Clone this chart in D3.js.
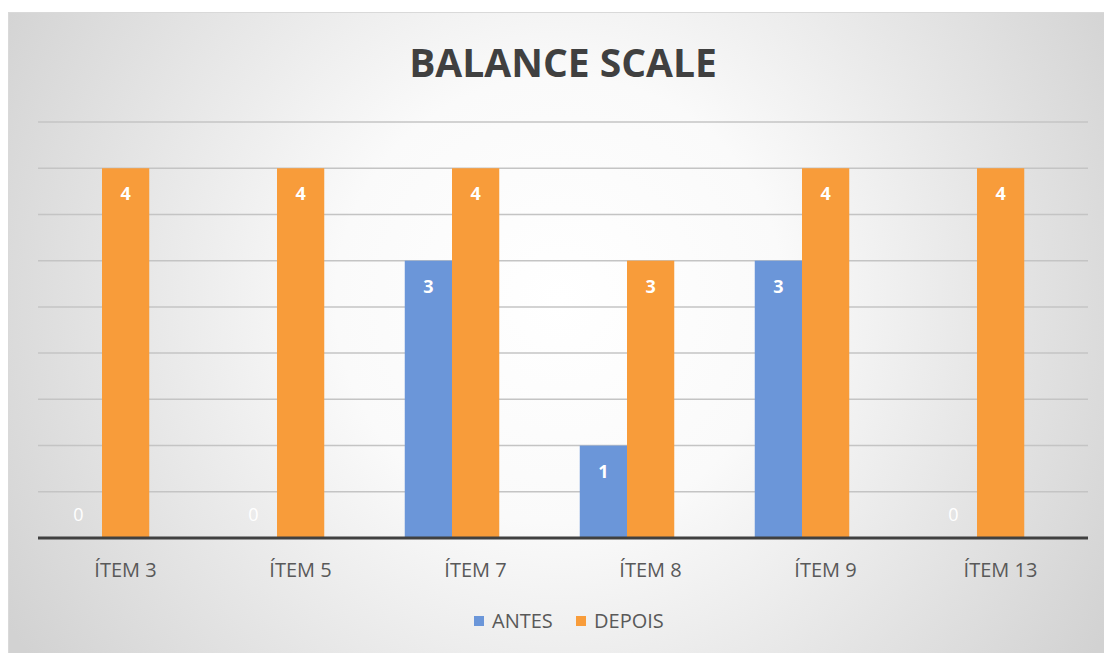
<!DOCTYPE html>
<html>
<head>
<meta charset="utf-8">
<script src="https://cdn.jsdelivr.net/npm/d3@7"></script>
<style>
  body { margin: 0; background: #fff; }
  svg { display: block; font-family: "Open Sans", "Noto Sans", sans-serif; }
</style>
</head>
<body>
<svg id="chart" width="1104" height="653"></svg>
<script>
// chart data
const categories = ["ÍTEM 3", "ÍTEM 5", "ÍTEM 7", "ÍTEM 8", "ÍTEM 9", "ÍTEM 13"];
const antes = [0, 0, 3, 1, 3, 0];
const depois = [4, 4, 4, 3, 4, 4];
const seriesNames = ["ANTES", "DEPOIS"];
const yTicks = [0, 0.5, 1, 1.5, 2, 2.5, 3, 3.5, 4, 4.5];

const colors = { ANTES: "#6b96d9", DEPOIS: "#f89c3a" };

let svg = d3.select("#chart");
let width = +svg.attr("width");
let height = +svg.attr("height");

// background with soft radial shading
let defs = svg.append("defs");
let grad = defs.append("radialGradient")
    .attr("id", "bg")
    .attr("gradientUnits", "userSpaceOnUse")
    .attr("cx", 560).attr("cy", 300).attr("r", 640);
grad.append("stop").attr("offset", "0%").attr("stop-color", "#ffffff");
grad.append("stop").attr("offset", "35%").attr("stop-color", "#fafafa");
grad.append("stop").attr("offset", "100%").attr("stop-color", "#d2d2d2");

svg.append("rect")
    .attr("x", 8.5).attr("y", 12.5)
    .attr("width", width).attr("height", height)
    .attr("fill", "url(#bg)")
    .attr("stroke", "#d9d9d9");

let plotLeft = 38, plotRight = 1088, plotTop = 122, plotBottom = 538;

let y = d3.scaleLinear()
    .domain([0, 4.5])
    .range([plotBottom, plotTop]);

// bars sit slightly left of their labels in the original
let x = d3.scaleBand()
    .domain(categories)
    .range([14.5, 1064.5])
    .paddingInner(0.46)
    .paddingOuter(0.23);

let xSub = d3.scaleBand()
    .domain(seriesNames)
    .range([0, x.bandwidth()]);

let xLabel = d3.scaleBand()
    .domain(categories)
    .range([plotLeft, plotRight]);

// gridlines
svg.append("g")
    .selectAll("line")
    .data(yTicks.slice(1))
    .join("line")
    .attr("x1", plotLeft).attr("x2", plotRight)
    .attr("y1", d => y(d)).attr("y2", d => y(d))
    .attr("stroke", "#c4c4c4")
    .attr("stroke-width", 1.5);

// bars
let rows = categories.map((c, i) => ({ cat: c, ANTES: antes[i], DEPOIS: depois[i] }));

let groups = svg.append("g")
    .selectAll("g")
    .data(rows)
    .join("g")
    .attr("transform", d => "translate(" + x(d.cat) + ",0)");

let cells = groups.selectAll("g")
    .data(d => seriesNames.map(s => ({ key: s, value: d[s] })))
    .join("g");

cells.append("rect")
    .attr("x", d => xSub(d.key))
    .attr("y", d => y(d.value))
    .attr("width", xSub.bandwidth())
    .attr("height", d => plotBottom - y(d.value))
    .attr("fill", d => colors[d.key]);

cells.append("text")
    .attr("x", d => xSub(d.key) + xSub.bandwidth() / 2)
    .attr("y", d => d.value > 0 ? y(d.value) + 32 : plotBottom - 17)
    .attr("text-anchor", "middle")
    .attr("fill", "#ffffff")
    .attr("font-size", 18)
    .attr("font-weight", d => d.value > 0 ? "bold" : "normal")
    .text(d => d.value);

// x axis line
svg.append("line")
    .attr("x1", plotLeft).attr("x2", plotRight)
    .attr("y1", plotBottom).attr("y2", plotBottom)
    .attr("stroke", "#404040")
    .attr("stroke-width", 3);

// x axis labels
let xAxis = d3.axisBottom(xLabel).tickSize(0).tickPadding(0);
let xg = svg.append("g")
    .attr("transform", "translate(0," + plotBottom + ")")
    .call(xAxis);
xg.select(".domain").remove();
xg.selectAll("text")
    .attr("dy", 0)
    .attr("y", 39)
    .attr("font-size", 20)
    .attr("font-family", "'Open Sans', sans-serif")
    .attr("fill", "#595959");

// title
svg.append("text")
    .attr("x", 563)
    .attr("y", 77)
    .attr("text-anchor", "middle")
    .attr("font-size", 39)
    .attr("font-weight", "bold")
    .attr("fill", "#404040")
    .text("BALANCE SCALE");

// legend
let legend = svg.append("g").attr("transform", "translate(474,628)");
let legendX = [0, 102];
seriesNames.forEach((s, i) => {
    let g = legend.append("g").attr("transform", "translate(" + legendX[i] + ",0)");
    g.append("rect")
        .attr("x", 0).attr("y", -12)
        .attr("width", 10).attr("height", 10)
        .attr("fill", colors[s]);
    g.append("text")
        .attr("x", 18).attr("y", 0)
        .attr("font-size", 20)
        .attr("fill", "#595959")
        .text(s);
});
</script>
</body>
</html>
